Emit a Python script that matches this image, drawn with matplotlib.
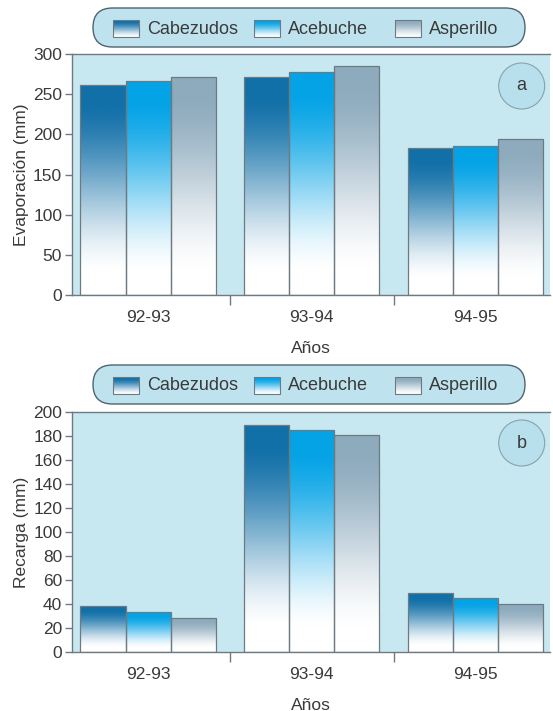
import numpy as np
import matplotlib
matplotlib.use("Agg")
import matplotlib.pyplot as plt
from matplotlib.patches import FancyBboxPatch, Circle

plt.rcParams['font.family'] = ['Liberation Sans', 'DejaVu Sans']

years = ["92-93", "93-94", "94-95"]
sites = ["Cabezudos", "Acebuche", "Asperillo"]
evaporacion = {
    "Cabezudos": [262, 271, 183],
    "Acebuche": [267, 278, 186],
    "Asperillo": [272, 285, 194],
}
recarga = {
    "Cabezudos": [38, 189, 49],
    "Acebuche": [33, 185, 45],
    "Asperillo": [28, 181, 40],
}
colors = {"Cabezudos": "#1270a8", "Acebuche": "#03a3e6", "Asperillo": "#8eabbe"}

bg = "#c8e8f1"
edge = "#6e7a80"
txt = "#3a3a3a"


def gradient_img(col, lo=0.12, span=0.78):
    # white at the bottom, full colour towards the top
    t = np.linspace(0, 1, 200)
    a = np.clip((t - lo) / span, 0, 1)
    a = a * a * (3 - 2 * a) * 0.6 + a * 0.4
    c = np.array(matplotlib.colors.to_rgb(col))
    img = (1 - a)[:, None] * np.ones(3) + a[:, None] * c
    return img[:, None, :]


def draw_panel(ax, data, ymax, step, ylabel):
    ax.set_facecolor(bg)
    w = 0.275
    x = np.arange(len(years))
    for i, s in enumerate(sites):
        bars = ax.bar(x + (i - 1) * w, data[s], w, facecolor="none",
                      edgecolor=edge, linewidth=0.9, zorder=3)
        for b in bars:
            x0, h = b.get_x(), b.get_height()
            im = ax.imshow(gradient_img(colors[s]), extent=[x0, x0 + w, 0, h],
                           origin="lower", aspect="auto", zorder=2)
            im.set_clip_path(b)
    ax.set_xlim(-0.465, 2.455)
    ax.set_ylim(0, ymax)
    ax.set_yticks(np.arange(0, ymax + 1, step))
    ax.set_xticks(x)
    ax.set_xticklabels(years)
    ax.set_xticks([0.5, 1.5], minor=True)
    ax.tick_params(axis="x", which="major", length=0, pad=11, labelsize=12.5, colors=txt)
    ax.tick_params(axis="x", which="minor", length=7, width=1, color=edge, direction="out")
    ax.tick_params(axis="y", length=5, width=1, color=edge, labelsize=12.5, colors=txt, pad=2)
    for sp in ax.spines.values():
        sp.set_color(edge)
        sp.set_linewidth(1)
    ax.spines["right"].set_visible(False)
    ax.set_ylabel(ylabel, fontsize=12.5, color=txt, labelpad=3)
    ax.set_xlabel("Años", fontsize=12.5, color=txt, labelpad=11)


fig = plt.figure(figsize=(5.53, 7.11), dpi=100)
ax1 = fig.add_axes([0.130, 0.585, 0.8644, 0.339])
ax2 = fig.add_axes([0.130, 0.083, 0.8644, 0.3375])
draw_panel(ax1, evaporacion, 300, 50, "Evaporación (mm)")
draw_panel(ax2, recarga, 200, 20, "Recarga (mm)")

# overlay in pixel units for legends and panel letters
ov = fig.add_axes([0, 0, 1, 1], zorder=10)
ov.axis("off")
ov.patch.set_alpha(0)

for ytop, letter, cy in [(8, "a", 86), (365, "b", 443)]:
    pill = FancyBboxPatch((93, ytop), 432, 39, boxstyle="round,pad=0,rounding_size=19.5",
                          facecolor="#bfe3ee", edgecolor="#4f6570", linewidth=1)
    ov.add_patch(pill)
    for s, sx in zip(sites, [113, 254, 395]):
        ov.imshow(gradient_img(colors[s], 0.0, 0.9), extent=[sx, sx + 26, ytop + 29, ytop + 12],
                  origin="lower", aspect="auto", zorder=11)
        ov.add_patch(plt.Rectangle((sx, ytop + 12), 26, 17, facecolor="none",
                                   edgecolor=edge, linewidth=0.8, zorder=12))
        ov.text(sx + 34, ytop + 21, s, fontsize=13, color=txt, va="center", ha="left", zorder=12)
    ov.add_patch(Circle((521.7, cy), 23, facecolor="#b8e0ec", edgecolor="#86a2ad",
                        linewidth=0.8, zorder=11))
    ov.text(521.7, cy, letter, fontsize=13, color=txt, ha="center", va="center", zorder=12)

ov.set_xlim(0, 553)
ov.set_ylim(711, 0)

fig.savefig("out.png", dpi=100, facecolor="white")
